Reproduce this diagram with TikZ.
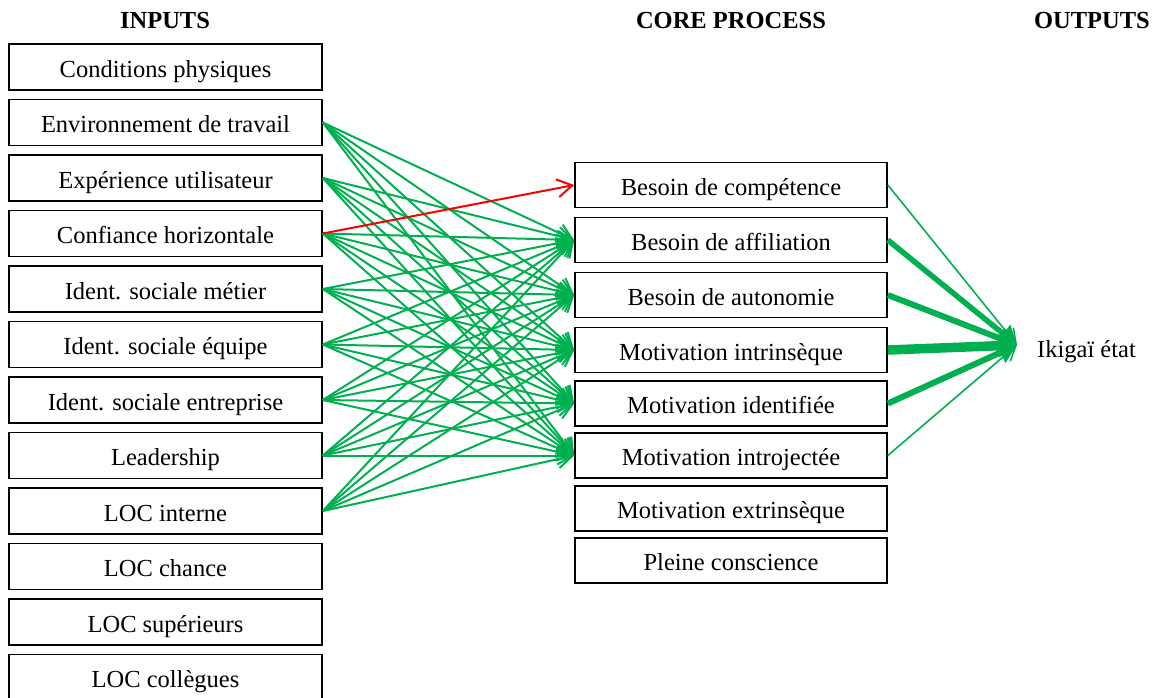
\documentclass[tikz,border=0pt]{standalone}
\usepackage{fontspec}
\setmainfont{Liberation Serif}
\usetikzlibrary{arrows.meta}
\definecolor{linkgreen}{RGB}{0,176,80}
\definecolor{linkred}{RGB}{255,0,0}
\begin{document}
\begin{tikzpicture}[x=1pt,y=-1pt,
  font=\fontsize{24.5}{28}\selectfont,
  inbox/.style={draw=black,line width=1.6pt,minimum width=313pt,minimum height=46pt,inner sep=0pt,text height=20pt,text depth=0pt,anchor=center},
  corebox/.style={draw=black,line width=1.6pt,minimum width=312pt,minimum height=45pt,inner sep=0pt,text height=20pt,text depth=0pt,anchor=center},
  header/.style={font=\fontsize{24.5}{28}\selectfont\bfseries,inner sep=0pt},
  link/.style={draw=linkgreen,line width=2pt,-{Straight Barb[length=15pt,width=18pt,line width=2pt]}},
  redlink/.style={draw=linkred,line width=2pt,-{Straight Barb[length=15pt,width=18pt,line width=2pt]}},
  outlink/.style={draw=linkgreen,-{Triangle[length=18pt,width=22pt]}},
  thinout/.style={draw=linkgreen,line width=1.6pt,-{Straight Barb[length=14pt,width=16pt,line width=1.6pt]}}
]
\clip (0,0) rectangle (1156,697);
\fill[white] (0,0) rectangle (1156,697);

% column headers
\node[header] (hin) at (165,21) {INPUTS};
\node[header] (hcore) at (731,21) {CORE PROCESS};
\node[header] (hout) at (1092,21) {OUTPUTS};

% input factors
\node[inbox] (i1) at (165.5,67) {Conditions physiques};
\node[inbox] (i2) at (165.5,122.5) {Environnement de travail};
\node[inbox] (i3) at (165.5,178) {Expérience utilisateur};
\node[inbox] (i4) at (165.5,233.5) {Confiance horizontale};
\node[inbox] (i5) at (165.5,289) {Ident. sociale métier};
\node[inbox] (i6) at (165.5,344.5) {Ident. sociale équipe};
\node[inbox] (i7) at (165.5,400) {Ident. sociale entreprise};
\node[inbox] (i8) at (165.5,455.5) {Leadership};
\node[inbox] (i9) at (165.5,511) {LOC interne};
\node[inbox] (i10) at (165.5,566.5) {LOC chance};
\node[inbox] (i11) at (165.5,622) {LOC supérieurs};
\node[inbox] (i12) at (165.5,677.5) {LOC collègues};

% core process
\node[corebox] (c1) at (731,185) {Besoin de compétence};
\node[corebox] (c2) at (731,240) {Besoin de affiliation};
\node[corebox] (c3) at (731,295) {Besoin de autonomie};
\node[corebox] (c4) at (731,350) {Motivation intrinsèque};
\node[corebox] (c5) at (731,403.5) {Motivation identifiée};
\node[corebox] (c6) at (731,455.5) {Motivation introjectée};
\node[corebox] (c7) at (731,508.5) {Motivation extrinsèque};
\node[corebox] (c8) at (731,560.5) {Pleine conscience};

% output
\node[anchor=west,inner sep=0pt,text height=20pt,text depth=0pt] (out) at (1037,347) {Ikigaï état};
\coordinate (tip) at (1017,345);

% input -> core links
\foreach \s in {2,...,9}{
  \foreach \t in {2,...,6}{
    \draw[link] (i\s.east) -- (c\t.west);
  }
}
\draw[redlink] (i4.east) -- (c1.west);

% core -> output links, width by strength
\draw[thinout] (c1.east) -- (tip);
\draw[thinout] (c6.east) -- (tip);
\draw[outlink,line width=5.5pt] (c2.east) -- (tip);
\draw[outlink,line width=6pt] (c3.east) -- (tip);
\draw[outlink,line width=6pt] (c5.east) -- (tip);
\draw[outlink,line width=9.5pt] (c4.east) -- (tip);
\end{tikzpicture}
\end{document}
